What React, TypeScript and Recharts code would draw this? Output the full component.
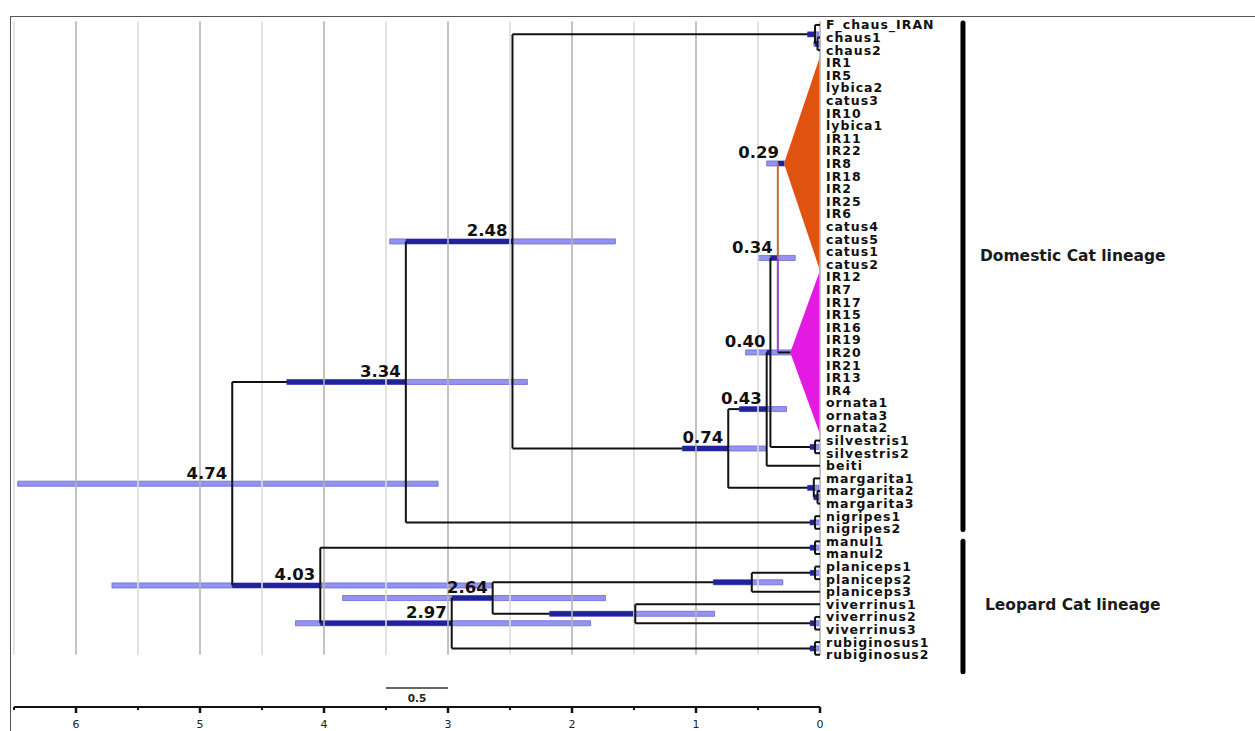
import React from 'react';
import { ComposedChart, XAxis, YAxis, ReferenceLine, ReferenceArea, ReferenceDot } from 'recharts';

// ---------------- data ----------------
const LEAVES = [
  'F_chaus_IRAN', 'chaus1', 'chaus2',
  'IR1', 'IR5', 'lybica2', 'catus3', 'IR10', 'lybica1', 'IR11', 'IR22', 'IR8', 'IR18', 'IR2', 'IR25', 'IR6',
  'catus4', 'catus5', 'catus1', 'catus2',
  'IR12', 'IR7', 'IR17', 'IR15', 'IR16', 'IR19', 'IR20', 'IR21', 'IR13', 'IR4',
  'ornata1', 'ornata3', 'ornata2',
  'silvestris1', 'silvestris2', 'beiti',
  'margarita1', 'margarita2', 'margarita3',
  'nigripes1', 'nigripes2',
  'manul1', 'manul2',
  'planiceps1', 'planiceps2', 'planiceps3',
  'viverrinus1', 'viverrinus2', 'viverrinus3',
  'rubiginosus1', 'rubiginosus2',
];

const TIME_TICKS = [0, 0.5, 1, 1.5, 2, 2.5, 3, 3.5, 4, 4.5, 5, 5.5, 6, 6.5];
const GRID_LINES = [0, 0.5, 1, 1.5, 2, 2.5, 3, 3.5, 4, 4.5, 5, 5.5, 6, 6.5];

type TreeNode = { id: string; age: number; kids: string[]; hpd?: [number, number]; label?: string };

const NODES: TreeNode[] = [
  { id: 'chausA', age: 0.02, kids: ['chaus1', 'chaus2'], hpd: [0.05, 0.0] },
  { id: 'chaus', age: 0.04, kids: ['F_chaus_IRAN', 'chausA'], hpd: [0.1, 0.01] },
  { id: 'C', age: 0.34, kids: ['orange', 'magenta'], hpd: [0.5, 0.2], label: '0.34' },
  { id: 'silv', age: 0.04, kids: ['silvestris1', 'silvestris2'], hpd: [0.08, 0.01] },
  { id: 'B', age: 0.4, kids: ['C', 'silv'], hpd: [0.6, 0.14], label: '0.40' },
  { id: 'D', age: 0.43, kids: ['B', 'beiti'], hpd: [0.65, 0.27], label: '0.43' },
  { id: 'margA', age: 0.02, kids: ['margarita2', 'margarita3'], hpd: [0.05, 0.0] },
  { id: 'marg', age: 0.05, kids: ['margarita1', 'margA'], hpd: [0.1, 0.01] },
  { id: 'E', age: 0.74, kids: ['D', 'marg'], hpd: [1.11, 0.44], label: '0.74' },
  { id: 'F', age: 2.48, kids: ['chaus', 'E'], hpd: [3.47, 1.65], label: '2.48' },
  { id: 'nig', age: 0.04, kids: ['nigripes1', 'nigripes2'], hpd: [0.08, 0.01] },
  { id: 'G', age: 3.34, kids: ['F', 'nig'], hpd: [4.3, 2.36], label: '3.34' },
  { id: 'manul', age: 0.04, kids: ['manul1', 'manul2'], hpd: [0.08, 0.01] },
  { id: 'plA', age: 0.04, kids: ['planiceps1', 'planiceps2'], hpd: [0.08, 0.01] },
  { id: 'pl', age: 0.55, kids: ['plA', 'planiceps3'], hpd: [0.86, 0.3] },
  { id: 'vivA', age: 0.04, kids: ['viverrinus2', 'viverrinus3'], hpd: [0.08, 0.01] },
  { id: 'viv', age: 1.49, kids: ['viverrinus1', 'vivA'], hpd: [2.18, 0.85] },
  { id: 'H', age: 2.64, kids: ['pl', 'viv'], hpd: [3.85, 1.73], label: '2.64' },
  { id: 'rub', age: 0.04, kids: ['rubiginosus1', 'rubiginosus2'], hpd: [0.08, 0.01] },
  { id: 'I', age: 2.97, kids: ['H', 'rub'], hpd: [4.23, 1.85], label: '2.97' },
  { id: 'J', age: 4.03, kids: ['manul', 'I'], hpd: [5.71, 2.65], label: '4.03' },
  { id: 'root', age: 4.74, kids: ['G', 'J'], hpd: [6.47, 3.08], label: '4.74' },
];

type Clade = { id: string; age: number; first: string; last: string; fill: string; branch: string; hpd?: [number, number]; label?: string };
const CLADES: Clade[] = [
  { id: 'orange', age: 0.29, first: 'IR1', last: 'catus2', fill: '#e0520f', branch: '#c56a36', hpd: [0.43, 0.18], label: '0.29' },
  { id: 'magenta', age: 0.24, first: 'IR12', last: 'ornata2', fill: '#e21ae2', branch: '#9c3fd4' },
];

const LINEAGES = [
  { name: 'Domestic Cat lineage', span: [-0.15, 40.05], labelAt: 18.3, labelX: -1.29 },
  { name: 'Leopard Cat lineage', span: [41.0, 51.35], labelAt: 46.05, labelX: -1.33 },
];
const LINEAGE_X = -1.153;
const SCALE_BAR = [3.5, 3.0];
const SCALE_BAR_Y = 52.64;

// ---------------- layout helpers ----------------
const leafIndex: Record<string, number> = {};
LEAVES.forEach((n, i) => { leafIndex[n] = i; });
const nodeMap: Record<string, TreeNode> = {};
NODES.forEach((n) => { nodeMap[n.id] = n; });
const cladeMap: Record<string, Clade> = {};
CLADES.forEach((c) => { cladeMap[c.id] = c; });
const parentOf: Record<string, string> = {};
NODES.forEach((n) => n.kids.forEach((k) => { parentOf[k] = n.id; }));

const posCache: Record<string, { age: number; y: number }> = {};
function posOf(id: string): { age: number; y: number } {
  if (posCache[id]) return posCache[id];
  let r: { age: number; y: number };
  if (id in leafIndex) r = { age: 0, y: leafIndex[id] };
  else if (cladeMap[id]) {
    const c = cladeMap[id];
    r = { age: c.age, y: (leafIndex[c.first] + leafIndex[c.last]) / 2 };
  } else {
    const n = nodeMap[id];
    const ys = n.kids.map((k) => posOf(k).y);
    r = { age: n.age, y: (Math.min(...ys) + Math.max(...ys)) / 2 };
  }
  posCache[id] = r;
  return r;
}
function hpdOf(id: string): [number, number] | undefined {
  if (nodeMap[id]) return nodeMap[id].hpd;
  if (cladeMap[id]) return cladeMap[id].hpd;
  return undefined;
}

const BLACK = '#111';
const NAVY = '#22229a';
const segs: { a: { x: number; y: number }; b: { x: number; y: number }; color: string }[] = [];
NODES.forEach((n) => {
  const p = posOf(n.id);
  n.kids.forEach((k) => {
    const kp = posOf(k);
    const color = cladeMap[k] ? cladeMap[k].branch : BLACK;
    segs.push({ a: { x: p.age, y: p.y }, b: { x: p.age, y: kp.y }, color });
    const h = hpdOf(k);
    const split = h ? Math.min(h[0], p.age) : p.age;
    if (split < p.age) segs.push({ a: { x: p.age, y: kp.y }, b: { x: split, y: kp.y }, color: BLACK });
    if (!h) segs.push({ a: { x: p.age, y: kp.y }, b: { x: kp.age, y: kp.y }, color: BLACK });
  });
});

type Bar = { id: string; y: number; age: number; hpd: [number, number]; parentAge: number | null; label?: string };
const bars: Bar[] = [];
[...NODES, ...CLADES].forEach((n: any) => {
  if (!n.hpd) return;
  const p = posOf(n.id);
  const par = parentOf[n.id];
  bars.push({ id: n.id, y: p.y, age: p.age, hpd: n.hpd, parentAge: par ? posOf(par).age : null, label: n.label });
});
const labels = [...NODES, ...CLADES].filter((n: any) => n.label).map((n: any) => ({ ...posOf(n.id), text: n.label as string }));

// ---------------- ticks ----------------
const XTick = (p: any) => {
  const v = p.payload.value;
  const major = Math.abs(v - Math.round(v)) < 1e-6;
  return (
    <g>
      <line x1={p.x} x2={p.x} y1={p.y} y2={p.y + (major ? 6 : 3)} stroke={BLACK} strokeWidth={major ? 2.5 : 2} />
      {major && (
        <text x={p.x} y={p.y + 21} textAnchor="middle" fontSize={11} fontFamily="DejaVu Sans" fill="#222">{v}</text>
      )}
    </g>
  );
};

const YTick = (p: any) => (
  <text x={p.x} y={p.y} dy={4.5} textAnchor="start" fontSize={12.5} fontWeight="bold" letterSpacing={1}
    fontFamily="DejaVu Sans" fill="#111">{LEAVES[p.payload.value]}</text>
);

export default function App() {
  const data = LEAVES.map((n, i) => ({ x: 0, y: i }));
  return (
    <div style={{ position: 'absolute', left: 0, top: 0, width: 1255, height: 731, background: '#fff', overflow: 'hidden' }}>
      <div style={{ position: 'absolute', left: 10, top: 16, width: 1250, height: 720, borderTop: '1.5px solid #555', borderLeft: '1.5px solid #555' }} />
      <div style={{ position: 'absolute', left: 0, top: 0 }}>
        <ComposedChart width={1255} height={731} data={data} margin={{ top: 18, right: 295, bottom: 0, left: 14 }}>
          <XAxis type="number" dataKey="x" domain={[0, 6.5]} reversed allowDataOverflow ticks={TIME_TICKS} interval={0}
            tickSize={0} tickMargin={0} tickLine={false} tick={XTick} axisLine={{ stroke: BLACK, strokeWidth: 2 }} height={24} />
          <YAxis type="number" dataKey="y" orientation="right" domain={[-0.55, 54.15]} reversed allowDataOverflow
            ticks={LEAVES.map((_, i) => i)} interval={0} axisLine={false} tickLine={false} tickSize={0} tickMargin={6}
            width={140} tick={YTick} />

          {GRID_LINES.map((g) => (
            <ReferenceLine key={'g' + g} ifOverflow="visible" segment={[{ x: g, y: -0.3 }, { x: g, y: 50 }]}
              stroke={Number.isInteger(g) ? '#b4b4b4' : '#dcdcdc'} strokeWidth={1.6} />
          ))}

          {bars.map((b) => (
            <ReferenceArea key={'bar' + b.id} ifOverflow="visible" x1={b.hpd[0]} x2={b.hpd[1]} y1={b.y - 0.2} y2={b.y + 0.2}
              fill="#9494f0" fillOpacity={1} stroke="#6a6ad2" strokeWidth={0.8} />
          ))}

          {bars.filter((b) => b.parentAge !== null).map((b) => (
            <ReferenceArea key={'nv' + b.id} ifOverflow="visible" x1={Math.min(b.hpd[0], b.parentAge as number)} x2={b.age}
              y1={b.y - 0.2} y2={b.y + 0.2} fill={NAVY} fillOpacity={1} stroke="none" />
          ))}

          {segs.map((s, i) => (
            <ReferenceLine key={'s' + i} ifOverflow="visible" segment={[s.a, s.b]} stroke={s.color} strokeWidth={2} />
          ))}

          {CLADES.map((c) => (
            <ReferenceArea key={'tri' + c.id} ifOverflow="visible" x1={c.age} x2={0}
              y1={leafIndex[c.first] - 0.5} y2={leafIndex[c.last] + 0.5}
              shape={(p: any) => {
                const x0 = Math.min(p.x, p.x + p.width);
                const x1 = Math.max(p.x, p.x + p.width);
                const y0 = Math.min(p.y, p.y + p.height);
                const y1 = Math.max(p.y, p.y + p.height);
                return <polygon points={`${x0},${(y0 + y1) / 2} ${x1},${y0} ${x1},${y1}`} fill={c.fill} />;
              }} />
          ))}

          {labels.map((l) => (
            <ReferenceDot key={'lab' + l.text} ifOverflow="visible" x={l.age} y={l.y} r={0}
              shape={(p: any) => (
                <text x={p.cx - 5} y={p.cy - 5} textAnchor="end" fontSize={16.5} fontWeight="bold"
                  fontFamily="DejaVu Sans" fill="#111">{l.text}</text>
              )} />
          ))}

          <ReferenceLine ifOverflow="visible" segment={[{ x: SCALE_BAR[0], y: SCALE_BAR_Y }, { x: SCALE_BAR[1], y: SCALE_BAR_Y }]}
            stroke="#333" strokeWidth={1.5} />
          <ReferenceDot ifOverflow="visible" x={(SCALE_BAR[0] + SCALE_BAR[1]) / 2} y={SCALE_BAR_Y} r={0}
            shape={(p: any) => (
              <text x={p.cx} y={p.cy + 14} textAnchor="middle" fontSize={10.5} fontWeight="bold" fontFamily="DejaVu Sans" fill="#222">
                {SCALE_BAR[0] - SCALE_BAR[1]}
              </text>
            )} />

          {LINEAGES.map((g) => (
            <ReferenceLine key={'ln' + g.name} ifOverflow="visible"
              segment={[{ x: LINEAGE_X, y: g.span[0] }, { x: LINEAGE_X, y: g.span[1] }]}
              stroke="#000" strokeWidth={5} strokeLinecap="round" />
          ))}
          {LINEAGES.map((g) => (
            <ReferenceDot key={'lt' + g.name} ifOverflow="visible" x={g.labelX} y={g.labelAt} r={0}
              shape={(p: any) => (
                <text x={p.cx} y={p.cy} dy={5.5} textAnchor="start" fontSize={15.5} fontWeight="bold"
                  fontFamily="DejaVu Sans" fill="#1a1a1a">{g.name}</text>
              )} />
          ))}
        </ComposedChart>
      </div>
    </div>
  );
}
